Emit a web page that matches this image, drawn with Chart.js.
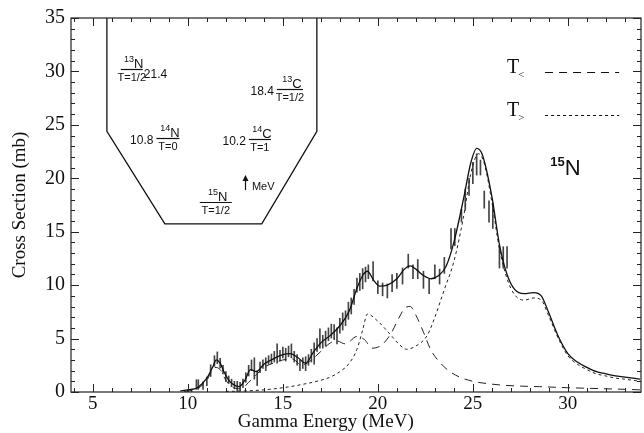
<!DOCTYPE html>
<html>
<head>
<meta charset="utf-8">
<script src="https://cdn.jsdelivr.net/npm/chart.js@4.4.0/dist/chart.umd.min.js"></script>
<style>
  html, body { margin: 0; padding: 0; background: #fff; }
</style>
</head>
<body>
<canvas id="chart" width="644" height="433"></canvas>
<script>
// Axis ticks
const xTicks = [5, 10, 15, 20, 25, 30];
const yTicks = [0, 5, 10, 15, 20, 25, 30, 35];

// Total fit (solid line)
const totalE = [9.6, 10.0, 10.5, 11.0, 11.3, 11.5, 11.7, 11.9, 12.2, 12.5, 12.7, 13.0, 13.3, 13.6, 14.0, 14.5, 15.0, 15.4, 15.8, 16.2, 16.6, 17.0, 17.5, 18.0, 18.5, 18.9, 19.2, 19.45, 19.8, 20.1, 20.5, 21.0, 21.4, 21.7, 22.0, 22.4, 22.8, 23.2, 23.6, 24.0, 24.5, 24.9, 25.2, 25.5, 26.0, 26.4, 26.8, 27.2, 27.7, 28.2, 28.6, 29.0, 29.5, 30.0, 30.5, 31.0, 31.5, 32.0, 32.5, 33.0, 33.8];
const totalY = [0.1, 0.2, 0.4, 1.3, 2.3, 3.0, 2.7, 1.9, 1.0, 0.6, 0.5, 1.1, 2.1, 1.9, 2.6, 3.1, 3.5, 3.6, 3.2, 2.7, 3.7, 4.6, 5.3, 6.2, 7.6, 9.7, 10.9, 11.3, 10.4, 9.9, 10.0, 10.6, 11.5, 11.8, 11.5, 10.9, 10.6, 10.9, 11.8, 14.0, 18.0, 21.5, 22.8, 22.2, 18.3, 13.8, 11.0, 9.6, 9.2, 9.3, 9.0, 7.4, 5.2, 3.6, 2.8, 2.3, 1.9, 1.7, 1.5, 1.4, 1.2];

// T< component (long dashes)
const tLessE = [9.8, 10.5, 11.0, 11.4, 11.7, 12.0, 12.4, 12.8, 13.2, 13.6, 14.0, 14.5, 15.0, 15.5, 16.0, 16.5, 17.0, 17.5, 17.8, 18.3, 18.9, 19.3, 19.7, 20.2, 20.7, 21.1, 21.45, 21.7, 22.0, 22.4, 22.8, 23.3, 23.8, 24.3, 25.0, 25.7, 26.5, 27.5, 28.5, 30.0, 31.0, 32.0, 33.0, 33.8];
const tLessY = [0.05, 0.3, 1.1, 2.3, 2.1, 1.1, 0.4, 0.3, 0.9, 1.6, 2.3, 2.7, 3.0, 3.1, 2.5, 3.0, 3.8, 4.6, 4.8, 4.5, 5.2, 4.9, 4.1, 4.4, 5.5, 6.9, 7.9, 8.0, 7.2, 5.6, 3.9, 2.7, 1.9, 1.4, 1.0, 0.8, 0.65, 0.55, 0.5, 0.4, 0.35, 0.3, 0.25, 0.2];

// T> component (short dashes)
const tGreatE = [12.0, 13.0, 14.0, 15.0, 16.0, 17.0, 17.5, 18.0, 18.5, 18.9, 19.2, 19.45, 19.95, 20.6, 21.1, 21.5, 22.0, 22.6, 23.0, 23.5, 24.0, 24.5, 24.9, 25.3, 25.6, 26.0, 26.4, 26.8, 27.2, 27.7, 28.2, 28.6, 29.0, 29.5, 30.0, 30.5, 31.0, 31.5, 32.0, 32.5, 33.0, 33.8];
const tGreatY = [0.05, 0.1, 0.2, 0.4, 0.7, 1.1, 1.4, 1.9, 2.7, 4.0, 5.8, 7.3, 6.7, 5.5, 4.5, 4.0, 4.3, 5.3, 7.0, 9.6, 12.2, 16.3, 20.5, 22.3, 21.4, 17.8, 13.4, 10.6, 9.1, 8.6, 8.8, 8.6, 7.1, 5.0, 3.4, 2.6, 2.1, 1.7, 1.5, 1.3, 1.2, 1.0];

// Measured points: energy, value, half error
const errE = [10.0, 10.2, 10.45, 10.55, 10.8, 11.0, 11.2, 11.4, 11.55, 11.7, 11.85, 12.0, 12.15, 12.3, 12.45, 12.6, 12.75, 12.9, 13.05, 13.2, 13.35, 13.5, 13.65, 13.8, 13.95, 14.1, 14.25, 14.4, 14.55, 14.7, 14.85, 15.0, 15.15, 15.3, 15.45, 15.6, 15.75, 15.9, 16.05, 16.2, 16.35, 16.5, 16.65, 16.8, 16.95, 17.1, 17.25, 17.4, 17.55, 17.7, 17.85, 18.0, 18.15, 18.3, 18.45, 18.6, 18.75, 18.9, 19.05, 19.2, 19.35, 19.5, 19.75, 20.0, 20.25, 20.5, 20.75, 21.0, 21.3, 21.6, 21.85, 22.1, 22.4, 22.7, 23.0, 23.25, 23.5, 23.85, 24.05, 24.4, 24.6, 24.8, 25.0, 25.2, 25.4, 25.6, 25.85, 26.05, 26.4, 26.6, 26.8];
const errY = [0.1, 0.15, 0.7, 0.7, 0.6, 1.0, 2.0, 2.9, 3.2, 2.7, 2.1, 1.45, 1.15, 0.85, 0.65, 0.5, 0.5, 0.8, 1.35, 2.0, 2.5, 2.2, 1.3, 2.3, 2.6, 2.6, 3.0, 3.1, 3.3, 3.6, 3.4, 3.7, 3.5, 3.8, 3.85, 3.3, 3.0, 2.5, 2.7, 2.65, 3.0, 3.4, 3.6, 4.4, 5.0, 4.7, 5.0, 5.4, 5.7, 5.6, 5.25, 6.2, 6.6, 6.9, 7.6, 8.05, 8.9, 10.0, 10.3, 10.6, 11.0, 11.25, 11.3, 9.8, 9.6, 9.45, 10.2, 10.4, 10.85, 12.25, 11.25, 11.5, 10.5, 9.9, 11.25, 10.8, 11.85, 14.35, 14.5, 16.5, 18.0, 19.2, 20.5, 21.3, 21.0, 18.0, 16.9, 16.5, 12.6, 12.6, 12.6];
const errD = [0.1, 0.1, 0.45, 0.45, 0.35, 0.4, 0.55, 0.5, 0.55, 0.45, 0.4, 0.45, 0.35, 0.35, 0.35, 0.5, 0.4, 0.4, 0.45, 0.5, 0.5, 1.0, 0.7, 0.5, 0.4, 0.6, 0.4, 0.45, 0.5, 0.9, 0.5, 0.5, 0.6, 0.5, 0.65, 0.5, 0.5, 0.5, 0.5, 0.65, 0.5, 0.6, 1.0, 0.6, 0.9, 0.6, 0.7, 0.6, 0.65, 0.7, 0.75, 0.7, 0.8, 0.7, 0.8, 0.75, 0.7, 0.65, 0.8, 0.95, 0.7, 0.65, 0.9, 0.6, 0.6, 0.65, 0.8, 0.7, 0.75, 0.65, 0.65, 0.9, 0.8, 0.7, 0.65, 0.7, 0.75, 0.95, 0.8, 0.6, 1.0, 0.8, 1.0, 1.0, 0.7, 0.8, 1.0, 1.2, 1.0, 1.0, 1.0];

// Inset (level scheme outline) in data units
const insetE = [5.74, 5.74, 8.79, 13.89, 16.79, 16.79];
const insetY = [35, 24.4, 15.74, 15.74, 24.4, 35];

// Level labels of the inset
const levels = [
  { mass: '13', el: 'N', iso: 'T=1/2', energy: '21.4', side: 'right', e: 7.05, y: 30.19, w: 22 },
  { mass: '13', el: 'C', iso: 'T=1/2', energy: '18.4', side: 'left', e: 15.37, y: 28.33, w: 26 },
  { mass: '14', el: 'N', iso: 'T=0', energy: '10.8', side: 'left', e: 8.95, y: 23.8, w: 23 },
  { mass: '14', el: 'C', iso: 'T=1', energy: '10.2', side: 'left', e: 13.79, y: 23.7, w: 22 },
  { mass: '15', el: 'N', iso: 'T=1/2', energy: '', side: 'left', e: 11.47, y: 17.78, w: 32 }
];

const pts = (xs, ys) => xs.map((x, i) => ({ x: x, y: ys[i] }));

Chart.defaults.font.family = "'Liberation Serif', 'Times New Roman', serif";
Chart.defaults.color = '#111';

// Frame, inward ticks and text annotations
const paperPlugin = {
  id: 'paper',
  afterDatasetsDraw(chart) {
    const { ctx, chartArea: a, scales: { x, y } } = chart;
    ctx.save();
    ctx.strokeStyle = '#222';
    ctx.lineWidth = 1.2;
    ctx.strokeRect(a.left, a.top, a.right - a.left, a.bottom - a.top);

    ctx.lineWidth = 1;
    ctx.beginPath();
    for (let v = Math.ceil(x.min); v <= x.max; v++) {
      const px = Math.round(x.getPixelForValue(v)) + 0.5;
      const len = v % 5 === 0 ? 8 : 4;
      ctx.moveTo(px, a.bottom); ctx.lineTo(px, a.bottom - len);
      ctx.moveTo(px, a.top); ctx.lineTo(px, a.top + len);
    }
    for (let v = 0; v <= y.max; v++) {
      const py = Math.round(y.getPixelForValue(v)) + 0.5;
      const len = v % 5 === 0 ? 8 : 4;
      ctx.moveTo(a.left, py); ctx.lineTo(a.left + len, py);
      ctx.moveTo(a.right, py); ctx.lineTo(a.right - len, py);
    }
    ctx.stroke();

    // level labels
    const sans = "'Liberation Sans', Arial, sans-serif";
    ctx.fillStyle = '#111';
    ctx.strokeStyle = '#111';
    levels.forEach(l => {
      const cx = x.getPixelForValue(l.e);
      const cy = Math.round(y.getPixelForValue(l.y)) + 0.5;
      ctx.lineWidth = 1.2;
      ctx.beginPath();
      ctx.moveTo(cx - l.w / 2, cy); ctx.lineTo(cx + l.w / 2, cy);
      ctx.stroke();
      ctx.font = '13px ' + sans;
      const elW = ctx.measureText(l.el).width;
      ctx.font = '9px ' + sans;
      const mW = ctx.measureText(l.mass).width;
      const x0 = cx - (elW + mW) / 2 + 2;
      ctx.textAlign = 'left';
      ctx.textBaseline = 'alphabetic';
      ctx.fillText(l.mass, x0, cy - 8);
      ctx.font = '13px ' + sans;
      ctx.fillText(l.el, x0 + mW, cy - 2);
      ctx.font = '11px ' + sans;
      ctx.textAlign = 'center';
      ctx.textBaseline = 'top';
      ctx.fillText(l.iso, cx, cy + 3);
      if (l.energy) {
        ctx.font = '12px ' + sans;
        ctx.textBaseline = 'middle';
        if (l.side === 'right') {
          ctx.textAlign = 'left';
          ctx.fillText(l.energy, cx + l.w / 2 + 1, cy + 5);
        } else {
          ctx.textAlign = 'right';
          ctx.fillText(l.energy, cx - l.w / 2 - 3, cy + 2);
        }
      }
    });

    // MeV arrow
    const ax = Math.round(x.getPixelForValue(13.0)) + 0.5;
    const ay0 = y.getPixelForValue(18.9), ay1 = y.getPixelForValue(20.3);
    ctx.lineWidth = 1.2;
    ctx.beginPath();
    ctx.moveTo(ax, ay0); ctx.lineTo(ax, ay1 + 3);
    ctx.stroke();
    ctx.beginPath();
    ctx.moveTo(ax, ay1); ctx.lineTo(ax - 3, ay1 + 6); ctx.lineTo(ax + 3, ay1 + 6);
    ctx.closePath(); ctx.fill();
    ctx.font = '11px ' + sans;
    ctx.textAlign = 'left';
    ctx.textBaseline = 'middle';
    ctx.fillText('MeV', x.getPixelForValue(13.37), y.getPixelForValue(19.2));

    // line-style key
    const serif = "'Liberation Serif', 'Times New Roman', serif";
    const keys = [
      { sub: '<', ty: 30.3, ly: 29.9, dash: [8, 6] },
      { sub: '>', ty: 26.3, ly: 25.9, dash: [3, 3] }
    ];
    keys.forEach(k => {
      const tx = x.getPixelForValue(26.8);
      const ty = y.getPixelForValue(k.ty);
      ctx.font = '20px ' + serif;
      ctx.textAlign = 'left';
      ctx.textBaseline = 'middle';
      ctx.fillText('T', tx, ty);
      const tw = ctx.measureText('T').width;
      ctx.font = '11px ' + serif;
      ctx.fillText(k.sub, tx + tw - 1, ty + 7);
      const ly = Math.round(y.getPixelForValue(k.ly)) + 0.5;
      ctx.setLineDash(k.dash);
      ctx.lineWidth = 1;
      ctx.beginPath();
      ctx.moveTo(x.getPixelForValue(28.8), ly);
      ctx.lineTo(x.getPixelForValue(32.7), ly);
      ctx.stroke();
      ctx.setLineDash([]);
    });

    // nucleus label
    const nx = x.getPixelForValue(29.84), ny = y.getPixelForValue(20.3);
    ctx.textBaseline = 'alphabetic';
    ctx.textAlign = 'right';
    ctx.font = 'bold 13px ' + sans;
    ctx.fillText('15', nx, ny - 9);
    ctx.textAlign = 'left';
    ctx.font = '22px ' + sans;
    ctx.fillText('N', nx, ny);

    // x-axis title
    ctx.font = '19px ' + serif;
    ctx.textAlign = 'center';
    ctx.fillText('Gamma Energy (MeV)', a.left + (a.right - a.left) * 0.447, 427);
    ctx.restore();
  }
};

new Chart(document.getElementById('chart'), {
  type: 'line',
  data: {
    datasets: [
      {
        label: 'Total',
        data: pts(totalE, totalY),
        borderColor: '#111',
        borderWidth: 1.3,
        pointRadius: 0,
        cubicInterpolationMode: 'monotone',
        order: 1
      },
      {
        label: 'T<',
        data: pts(tLessE, tLessY),
        borderColor: '#222',
        borderWidth: 1,
        borderDash: [8, 6],
        pointRadius: 0,
        cubicInterpolationMode: 'monotone',
        order: 2
      },
      {
        label: 'T>',
        data: pts(tGreatE, tGreatY),
        borderColor: '#222',
        borderWidth: 1,
        borderDash: [3, 3],
        pointRadius: 0,
        cubicInterpolationMode: 'monotone',
        order: 2
      },
      {
        label: 'Inset',
        data: pts(insetE, insetY),
        borderColor: '#111',
        borderWidth: 1.3,
        pointRadius: 0,
        tension: 0,
        order: 1
      },
      {
        type: 'bar',
        label: 'Data',
        data: errE.map((e, i) => ({ x: e, y: [errY[i] - errD[i], errY[i] + errD[i]] })),
        backgroundColor: '#444',
        borderWidth: 0,
        barThickness: 1,
        order: 3
      }
    ]
  },
  options: {
    responsive: false,
    animation: false,
    layout: { padding: { top: 14, right: 3, left: 0, bottom: 0 } },
    plugins: {
      legend: { display: false },
      tooltip: { enabled: false }
    },
    scales: {
      x: {
        type: 'linear',
        min: 3.85,
        max: 33.85,
        offset: false,
        grid: { display: false, drawTicks: false },
        border: { display: false },
        ticks: { font: { size: 19 }, color: '#111', padding: 1, maxRotation: 0 },
        afterBuildTicks: s => { s.ticks = xTicks.map(v => ({ value: v })); },
        afterFit: s => { s.height = 41; }
      },
      y: {
        min: 0,
        max: 35,
        grid: { display: false, drawTicks: false },
        border: { display: false },
        ticks: { font: { size: 20 }, color: '#111', padding: 6 },
        afterBuildTicks: s => { s.ticks = yTicks.map(v => ({ value: v })); },
        title: {
          display: true,
          text: 'Cross Section (mb)',
          font: { size: 19 },
          color: '#111',
          padding: { top: 9, bottom: 0 }
        },
        afterFit: s => { s.width = 71; }
      }
    }
  },
  plugins: [paperPlugin]
});
</script>
</body>
</html>
